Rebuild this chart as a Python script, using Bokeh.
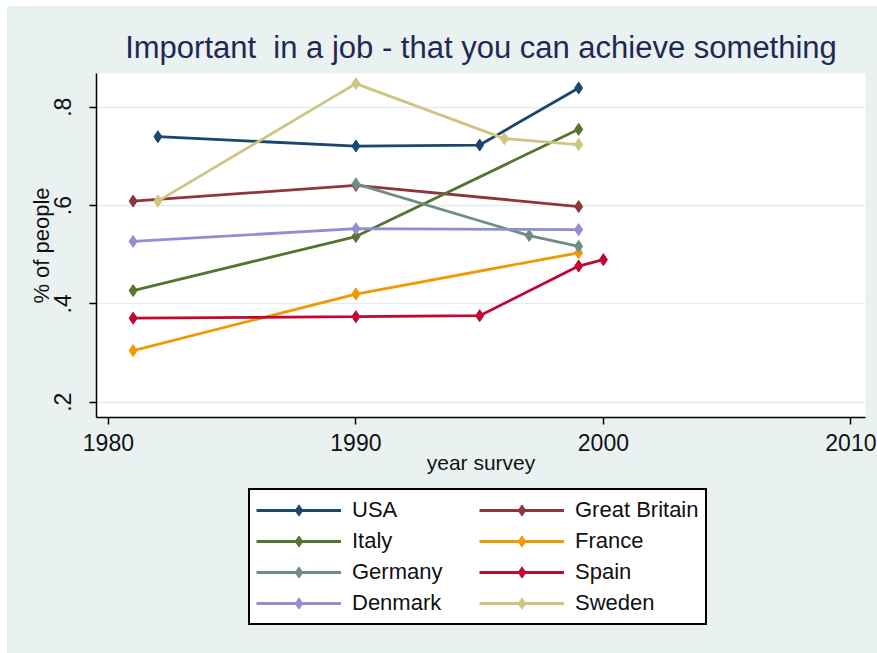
from bokeh.plotting import figure
from bokeh.models import Range1d, FixedTicker, Legend, LegendItem, Spacer
from bokeh.layouts import column, row
from bokeh.embed import file_html
from bokeh.resources import INLINE

# ---- data ----
countries = ["USA", "Great Britain", "Italy", "France", "Germany", "Spain", "Denmark", "Sweden"]
colors = ["#1A476F", "#90353B", "#55752F", "#EE9A00", "#6E8E84", "#C10534", "#938DD2", "#CFC583"]

usa_years = [1982, 1990, 1995, 1999]
usa_vals = [0.740, 0.721, 0.723, 0.839]
gb_years = [1981, 1990, 1999]
gb_vals = [0.609, 0.641, 0.598]
italy_years = [1981, 1990, 1999]
italy_vals = [0.427, 0.537, 0.755]
france_years = [1981, 1990, 1999]
france_vals = [0.305, 0.420, 0.504]
germany_years = [1990, 1997, 1999]
germany_vals = [0.644, 0.539, 0.517]
spain_years = [1981, 1990, 1995, 1999, 2000]
spain_vals = [0.371, 0.374, 0.376, 0.477, 0.490]
denmark_years = [1981, 1990, 1999]
denmark_vals = [0.527, 0.553, 0.551]
sweden_years = [1982, 1990, 1996, 1999]
sweden_vals = [0.609, 0.848, 0.736, 0.724]

series_years = [usa_years, gb_years, italy_years, france_years,
                germany_years, spain_years, denmark_years, sweden_years]
series_vals = [usa_vals, gb_vals, italy_vals, france_vals,
               germany_vals, spain_vals, denmark_vals, sweden_vals]

x_ticks = [1980, 1990, 2000, 2010]
y_ticks = [0.2, 0.4, 0.6, 0.8]
y_tick_labels = [".2", ".4", ".6", ".8"]

FONT = "Liberation Sans"
BG = "#EAF1F1"
LINE_W = 2.8
MARK_SIZE = 12

MAIN_H = 480
LEG_H = 167
W = 870

p = figure(width=W, height=MAIN_H, output_backend="svg", toolbar_location=None,
           x_range=Range1d(1979.52, 2010.59), y_range=Range1d(0.169, 0.8685),
           min_border_left=89, min_border_right=12, min_border_top=67,
           min_border_bottom=MAIN_H - 67 - 344)

p.border_fill_color = BG
p.background_fill_color = "white"
p.outline_line_color = None

p.title.text = "Important\u00a0 in a job - that you can achieve something"
p.title.align = "center"
p.title.text_font = FONT
p.title.text_font_size = "31px"
p.title.text_font_style = "normal"
p.title.text_color = "#1E2A55"
p.title.standoff = 17

# axes
xa = p.xaxis[0]
xa.ticker = FixedTicker(ticks=x_ticks)
xa.axis_label = "year survey"
ya = p.yaxis[0]
ya.ticker = FixedTicker(ticks=y_ticks)
ya.major_label_overrides = {t: l for t, l in zip(y_ticks, y_tick_labels)}
ya.axis_label = "% of people"
ya.major_label_orientation = "vertical"
for ax in (xa, ya):
    ax.axis_line_color = "black"
    ax.axis_line_width = 1.5
    ax.major_tick_line_color = "black"
    ax.major_tick_line_width = 1.5
    ax.major_tick_out = 7
    ax.major_tick_in = 0
    ax.minor_tick_line_color = None
    ax.major_label_text_font = FONT
    ax.major_label_text_font_size = "23px"
    ax.major_label_text_color = "#111111"
    ax.axis_label_text_font = FONT
    ax.axis_label_text_font_size = "21px"
    ax.axis_label_text_font_style = "normal"
    ax.axis_label_text_color = "#111111"
ya.axis_label_text_font_size = "22px"
xa.major_label_standoff = 9
xa.axis_label_standoff = -3
ya.major_label_standoff = 18
ya.axis_label_standoff = -2

p.xgrid.visible = False
p.ygrid.ticker = FixedTicker(ticks=y_ticks)
p.ygrid.grid_line_color = "#E4EDEF"
p.ygrid.grid_line_width = 1.5

for name, col, xs, ys in zip(countries, colors, series_years, series_vals):
    p.line(xs, ys, line_color=col, line_width=LINE_W)
    p.scatter(xs, ys, marker="diamond", size=MARK_SIZE, fill_color=col, line_color=col)

# ---- legend strip below the chart (same background); the legend's proxy
# renderers use the same series but lie outside this strip's view ----
lp = figure(width=W, height=LEG_H, output_backend="svg", toolbar_location=None,
            x_range=Range1d(0, 1), y_range=Range1d(0, 1),
            min_border_left=0, min_border_right=0, min_border_top=0, min_border_bottom=0)
lp.axis.visible = False
lp.grid.visible = False
lp.outline_line_color = None
lp.border_fill_color = BG
lp.background_fill_color = BG
lp.background_fill_alpha = 0

items = []
for name, col, xs, ys in zip(countries, colors, series_years, series_vals):
    r1 = lp.line(xs, ys, line_color=col, line_width=LINE_W)
    r2 = lp.scatter(xs, ys, marker="diamond", size=MARK_SIZE, fill_color=col, line_color=col)
    items.append(LegendItem(label=name, renderers=[r1, r2]))

legend = Legend(items=items, ncols=2, orientation="horizontal", location=(152, 28))
legend.label_text_font = FONT
legend.label_text_font_size = "22px"
legend.label_text_color = "#111111"
legend.glyph_width = 85
legend.glyph_height = 28
legend.label_height = 28
legend.label_width = 124
legend.label_standoff = 11
legend.spacing = 3
legend.padding = 6
legend.margin = 0
legend.border_line_color = "black"
legend.border_line_alpha = 1
legend.border_line_width = 2
legend.background_fill_color = "white"
legend.background_fill_alpha = 1
lp.add_layout(legend, "center")

layout = column(Spacer(height=6),
                row(Spacer(width=7),
                    column(p, lp, spacing=0, styles={"background-color": BG}),
                    spacing=0),
                spacing=0)

with open("out.html", "w") as f:
    f.write(file_html(layout, INLINE))
